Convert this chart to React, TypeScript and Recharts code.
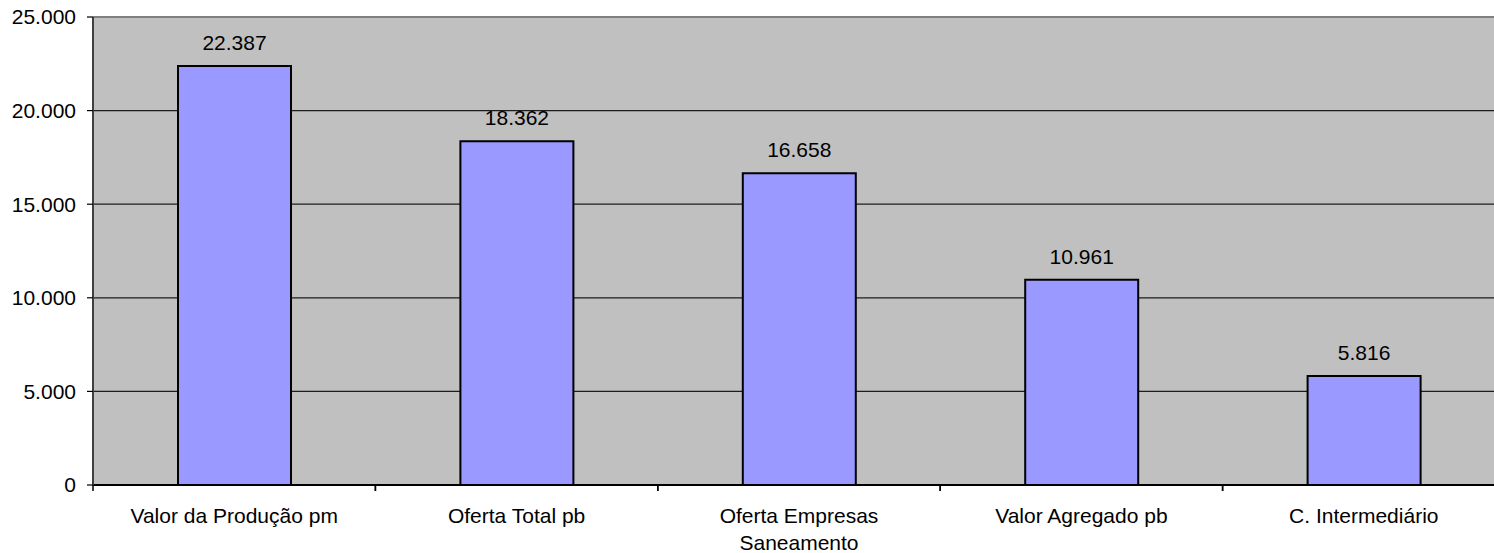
import React from "react";
import {
  Bar,
  BarChart,
  CartesianGrid,
  LabelList,
  ReferenceLine,
  XAxis,
  YAxis,
} from "recharts";

const categories = [
  "Valor da Produção pm",
  "Oferta Total pb",
  "Oferta Empresas Saneamento",
  "Valor Agregado pb",
  "C. Intermediário",
];
const values = [22387, 18362, 16658, 10961, 5816];
const yTicks = [0, 5000, 10000, 15000, 20000, 25000];

const data = categories.map((name, i) => ({ name, value: values[i] }));

const FONT = "'Liberation Sans', Arial, sans-serif";
const FONT_SIZE = 21;

const fmt = (v: number) =>
  String(v).replace(/\B(?=(\d{3})+(?!\d))/g, ".");

const TICK_SIZE = 6;
const TICK_MARGIN = 17;
const WRAP_WIDTH = 240;

let ctx: CanvasRenderingContext2D | null = null;
function measure(s: string) {
  if (!ctx) ctx = document.createElement("canvas").getContext("2d");
  if (!ctx) return s.length * FONT_SIZE * 0.5;
  ctx.font = `${FONT_SIZE}px ${FONT}`;
  return ctx.measureText(s).width;
}

function wrap(label: string) {
  const words = label.split(" ");
  const lines: string[] = [];
  let cur = "";
  for (const w of words) {
    const next = cur ? cur + " " + w : w;
    if (cur && measure(next) > WRAP_WIDTH) {
      lines.push(cur);
      cur = w;
    } else {
      cur = next;
    }
  }
  if (cur) lines.push(cur);
  return lines;
}

function CategoryTick(props: any) {
  const { x, y, payload } = props;
  const off = payload.offset || 0;
  const axisY = y - TICK_SIZE - TICK_MARGIN;
  const lines = wrap(String(payload.value));
  return (
    <g>
      <line
        x1={x - off}
        x2={x - off}
        y1={axisY}
        y2={axisY + TICK_SIZE}
        stroke="#000"
        strokeWidth={1.5}
      />
      <line
        x1={x + off}
        x2={x + off}
        y1={axisY}
        y2={axisY + TICK_SIZE}
        stroke="#000"
        strokeWidth={1.5}
      />
      <text
        x={x}
        y={y}
        textAnchor="middle"
        fontSize={FONT_SIZE}
        fontFamily={FONT}
        fill="#000"
      >
        {lines.map((l, i) => (
          <tspan key={i} x={x} dy={i === 0 ? "0.71em" : 27}>
            {l}
          </tspan>
        ))}
      </text>
    </g>
  );
}

export default function App() {
  return (
    <div
      style={{
        position: "fixed",
        left: 0,
        top: 0,
        width: 1494,
        height: 553,
        overflow: "hidden",
        background: "#fff",
      }}
    >
      <BarChart
        width={1515}
        height={553}
        data={data}
        margin={{ top: 17, right: 10, bottom: 0, left: 0 }}
      >
        <CartesianGrid
          vertical={false}
          fill="#C0C0C0"
          stroke="#000"
          strokeWidth={1.2}
          strokeOpacity={0.85}
        />
        <ReferenceLine y={25000} stroke="#808080" strokeWidth={2} />
        <XAxis
          dataKey="name"
          height={68}
          interval={0}
          tickSize={TICK_SIZE}
          tickMargin={TICK_MARGIN}
          tickLine={false}
          axisLine={{ stroke: "#000", strokeWidth: 2 }}
          tick={<CategoryTick />}
        />
        <YAxis
          width={93}
          domain={[0, 25000]}
          ticks={yTicks}
          tickFormatter={fmt}
          tickSize={TICK_SIZE}
          tickMargin={11}
          axisLine={{ stroke: "#404040", strokeWidth: 2 }}
          tickLine={{ stroke: "#000", strokeWidth: 1.2 }}
          tick={{ fill: "#000", fontSize: FONT_SIZE, fontFamily: FONT }}
        />
        <Bar
          dataKey="value"
          fill="#9999FF"
          stroke="#000"
          strokeWidth={2}
          barSize={113}
          isAnimationActive={false}
        >
          <LabelList
            dataKey="value"
            position="top"
            offset={16}
            formatter={(v: any) => fmt(Number(v))}
            fill="#000"
            fontSize={FONT_SIZE}
            fontFamily={FONT}
          />
        </Bar>
      </BarChart>
    </div>
  );
}
